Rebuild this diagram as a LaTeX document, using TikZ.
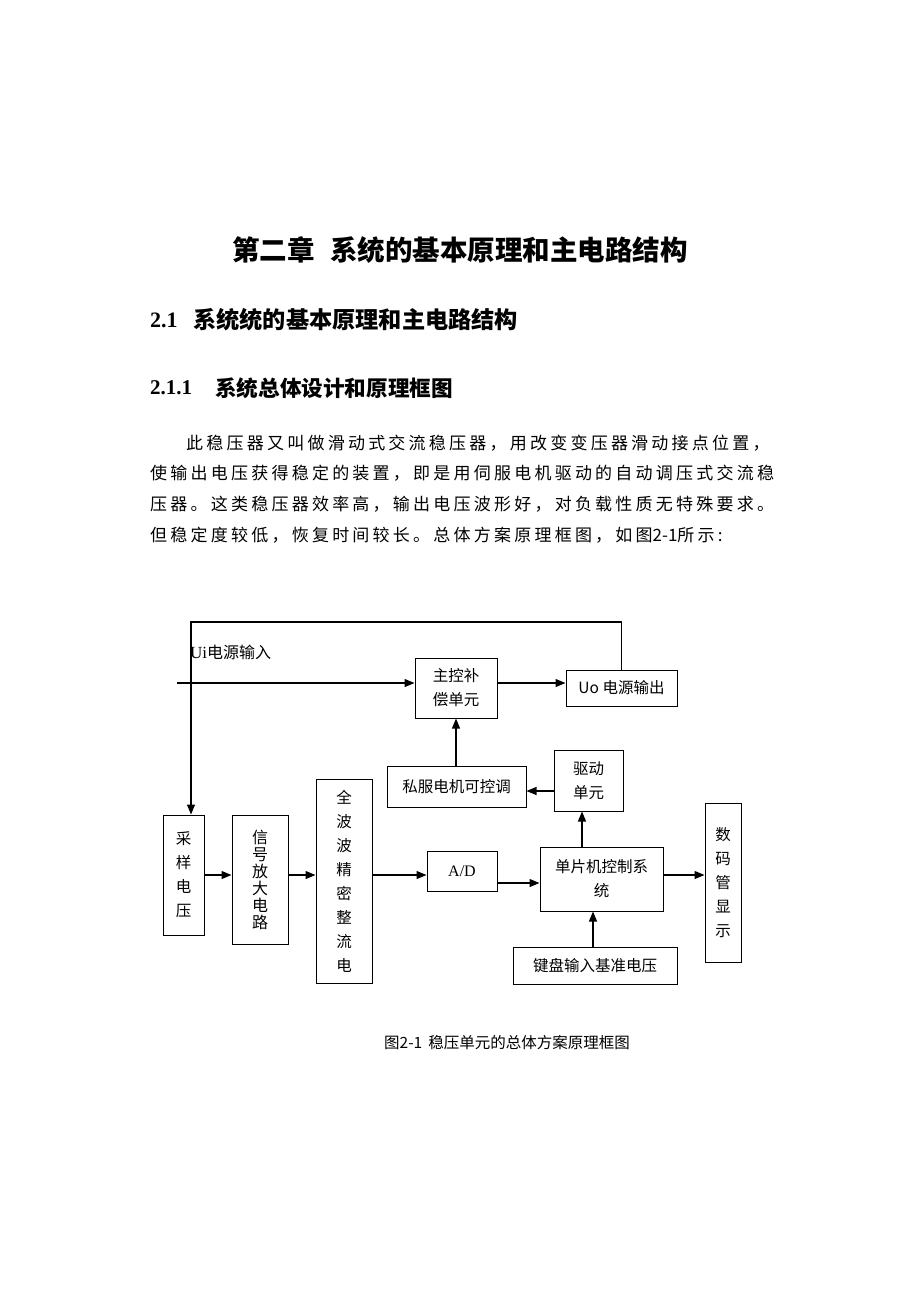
\documentclass[tikz,border=0pt]{standalone}
\usepackage{fontspec}
\setmainfont{Liberation Serif}
\newfontfamily\cjk{Noto Sans CJK SC}
\newfontfamily\cjkp[LetterSpace=19]{Noto Sans CJK SC}
\usetikzlibrary{arrows.meta}
\tikzset{
  box/.style={draw, line width=1pt, inner sep=0pt, align=center,
    font=\cjk\fontsize{15.5}{24}\selectfont},
  arr/.style={line width=1.2pt, -{Triangle[length=10pt,width=8pt]}},
  ln/.style={line width=1.2pt},
  txt/.style={inner sep=0pt, anchor=west},
  para/.style={inner sep=0pt, anchor=west, font=\cjkp\fontsize{17}{17}\selectfont}
}
\begin{document}
\begin{tikzpicture}[x=1pt,y=-1pt]
\useasboundingbox[fill=white] (0,0) rectangle (920,1302);

% headings
\node[inner sep=0pt] (title) at (460,250)
  {\cjk\bfseries\fontsize{27.5}{27.5}\selectfont 第二章\hspace{16pt}系统的基本原理和主电路结构};
\node[txt] (s1n) at (150,320) {\bfseries\fontsize{22}{22}\selectfont 2.1};
\node[txt] (s1t) at (193,320) {\cjk\bfseries\fontsize{23.2}{23.2}\selectfont 系统统的基本原理和主电路结构};
\node[txt] (s2n) at (150,388) {\bfseries\fontsize{21}{21}\selectfont 2.1.1};
\node[txt] (s2t) at (215,388) {\cjk\bfseries\fontsize{21.6}{21.6}\selectfont 系统总体设计和原理框图};

% paragraph
\node[para] (p1) at (186,443) {此稳压器又叫做滑动式交流稳压器，用改变变压器滑动接点位置，};
\node[para] (p2) at (150,473) {使输出电压获得稳定的装置，即是用伺服电机驱动的自动调压式交流稳};
\node[para] (p3) at (150,504) {压器。这类稳压器效率高，输出电压波形好，对负载性质无特殊要求。};
\node[para] (p4) at (150,535) {但稳定度较低，恢复时间较长。总体方案原理框图，如图{\cjk\fontsize{17}{17}\selectfont 2-1}所示:};

% diagram boxes
\node[box, minimum width=82pt, minimum height=60pt] (zk) at (456,688) {主控补\\偿单元};
\node[box, minimum width=111pt, minimum height=36pt] (uo) at (621.5,688) {Uo 电源输出};
\node[box, minimum width=139pt, minimum height=41pt] (sf) at (456.5,786.5) {私服电机可控调};
\node[box, minimum width=69pt, minimum height=61pt] (qd) at (588.5,780.5) {驱动\\单元};
\node[box, minimum width=123pt, minimum height=64pt] (dp) at (601.5,879) {单片机控制系\\统};
\node[box, minimum width=70pt, minimum height=40pt, font=\fontsize{16}{16}\selectfont] (ad) at (462,871) {A/D};
\node[box, minimum width=36pt, minimum height=159pt] (sm) at (723,882.5) {数\\码\\管\\显\\示};
\node[box, minimum width=164pt, minimum height=37pt] (jp) at (595,965.5) {键盘输入基准电压};
\node[box, minimum width=41pt, minimum height=120pt] (cy) at (183.5,875) {采\\样\\电\\压};
\node[box, minimum width=56pt, minimum height=129pt, font=\cjk\fontsize{16}{17}\selectfont] (xh) at (260,879.5) {信\\号\\放\\大\\电\\路};
\node[box, minimum width=56pt, minimum height=204pt] (qb) at (344,881) {全\\波\\波\\精\\密\\整\\流\\电};

% labels
\node[txt] (ui) at (190,652) {\fontsize{17}{17}\selectfont Ui\cjk\fontsize{16}{16}\selectfont 电源输入};
\node[inner sep=0pt] (cap) at (507,1043) {\cjk\fontsize{15.5}{15.5}\selectfont 图2-1\hspace{6pt}稳压单元的总体方案原理框图};

% connectors
\coordinate (in) at (177,683);
\coordinate (tl) at (191,622);
\draw[arr] (in) -- (in -| zk.west);
\draw[arr] (zk.east |- in) -- (uo.west |- in);
\draw[arr] (uo.north) |- (tl) -- (tl |- cy.north);
\draw[arr] (zk.south |- sf.north) -- (zk.south);
\draw[arr] ([yshift=-4.5pt]qd.west |- sf.east) -- ([yshift=-4.5pt]sf.east);
\draw[arr] ([xshift=-19.5pt]dp.north) -- ([xshift=-19.5pt]dp.north |- qd.south);
\draw[arr] ([xshift=-2pt]jp.north) -- ([xshift=-2pt]jp.north |- dp.south);
\draw[arr] (cy.east) -- (cy.east -| xh.west);
\draw[arr] (xh.east |- cy.east) -- (qb.west |- cy.east);
\draw[arr] (qb.east |- cy.east) -- (ad.west |- cy.east);
\draw[arr] ([yshift=-12pt]ad.east) -- ([yshift=-12pt]ad.east -| dp.west);
\draw[arr] (dp.east |- cy.east) -- (sm.west |- cy.east);
\end{tikzpicture}
\end{document}
